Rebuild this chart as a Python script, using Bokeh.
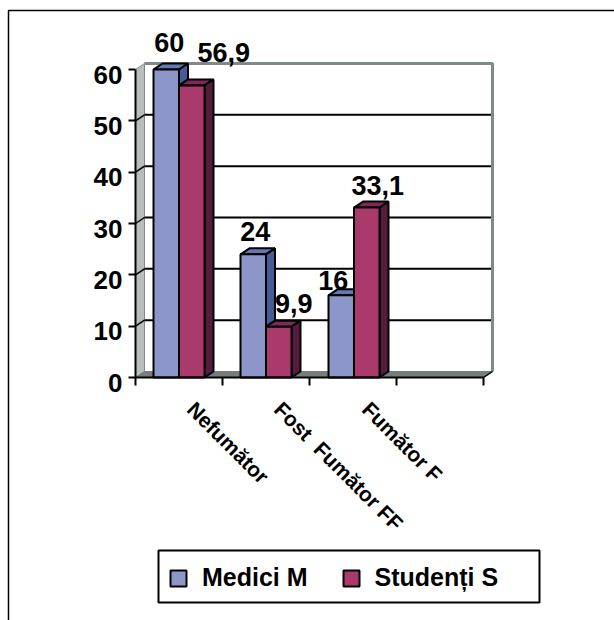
from bokeh.core.properties import value
from bokeh.embed import file_html
from bokeh.models import BoxAnnotation, ColumnDataSource, FixedTicker, Legend, LegendItem, LinearAxis
from bokeh.plotting import figure
from bokeh.resources import INLINE

# Smoking status by group
categories = ["Nefumător", "Fost \u00a0Fumător FF", "Fumător F"]
medici = [60, 24, 16]
studenti = [56.9, 9.9, 33.1]
y_ticks = [0, 10, 20, 30, 40, 50, 60]
series_names = ["Medici M", "Studenți S"]

WIDTH, HEIGHT = 614, 620
ORIGIN_X, ORIGIN_Y = 135, 377      # pixel position of the data origin
SLOT_PX, UNIT_PX = 87.0, 308 / 60  # pixels per category slot / per percent
DEPTH_X, DEPTH_Y = 9 / SLOT_PX, 6 / UNIT_PX  # pseudo-3D depth in data units
BAR_W = 25.5 / SLOT_PX
N_SLOTS = 4
FONT = "Liberation Sans"

BLUE = ("#8c96c8", "#6478b4", "#465c94")   # front, top, side
RED = ("#ab3a6c", "#7e2a58", "#551c3e")
WALL, FLOOR, EDGE = "#b9bdbd", "#767e7c", "#808a8a"

p = figure(
    width=WIDTH, height=HEIGHT, output_backend="svg", toolbar_location=None,
    x_axis_type=None, y_axis_type=None, min_border=0,
    x_range=(-ORIGIN_X / SLOT_PX, (WIDTH - ORIGIN_X) / SLOT_PX),
    y_range=((ORIGIN_Y - HEIGHT) / UNIT_PX, ORIGIN_Y / UNIT_PX),
)
p.outline_line_color = None
p.grid.visible = False


def screen_box(left, right, top, bottom, **style):
    """Box given in page pixels measured from the top-left corner."""
    return BoxAnnotation(left=left, right=right, top=HEIGHT - top, bottom=HEIGHT - bottom,
                         left_units="screen", right_units="screen",
                         top_units="screen", bottom_units="screen",
                         line_color="black", line_alpha=1, level="underlay", **style)


# Outer chart border
p.add_layout(screen_box(8, WIDTH + 20, 10, HEIGHT + 20, fill_color=None, line_width=1.5))

# Back wall, side wall and floor
ymax = y_ticks[-1]
p.patch([0, DEPTH_X, DEPTH_X, 0], [0, DEPTH_Y, ymax + DEPTH_Y, ymax],
        fill_color=WALL, line_color=EDGE, line_width=1)
p.patch([0, N_SLOTS, N_SLOTS + DEPTH_X, DEPTH_X], [0, 0, DEPTH_Y, DEPTH_Y],
        fill_color=FLOOR, line_color=FLOOR, line_width=1)

# Gridlines on the back wall, joined to the axis by short diagonals
grid_y = [t + DEPTH_Y for t in y_ticks[1:-1]]
p.segment([DEPTH_X] * len(grid_y), grid_y, [N_SLOTS + DEPTH_X] * len(grid_y), grid_y,
          line_color="black", line_width=2)
p.segment([0] * len(grid_y), y_ticks[1:-1], [DEPTH_X] * len(grid_y), grid_y,
          line_color="black", line_width=1.5)
p.line([DEPTH_X, N_SLOTS + DEPTH_X, N_SLOTS + DEPTH_X],
       [ymax + DEPTH_Y, ymax + DEPTH_Y, DEPTH_Y], line_color=EDGE, line_width=3)
p.segment([N_SLOTS], [0], [N_SLOTS + DEPTH_X], [DEPTH_Y], line_color="black", line_width=1.5)


def draw_bars(values, left_edges, colours):
    front, top, side = colours
    right_edges = [x + BAR_W for x in left_edges]
    p.patches(
        [[l, r, r + DEPTH_X, l + DEPTH_X] for l, r in zip(left_edges, right_edges)],
        [[v, v, v + DEPTH_Y, v + DEPTH_Y] for v in values],
        fill_color=top, line_color="black", line_width=2)
    p.patches(
        [[r, r + DEPTH_X, r + DEPTH_X, r] for r in right_edges],
        [[0, DEPTH_Y, v + DEPTH_Y, v] for v in values],
        fill_color=side, line_color="black", line_width=2)
    return p.quad(left=left_edges, right=right_edges, bottom=0, top=values,
                  fill_color=front, line_color="black", line_width=2)


centres = [i + 0.5 for i in range(len(categories))]
centres[2] += 1 / SLOT_PX
r_medici = draw_bars(medici, [c - BAR_W for c in centres], BLUE)
r_studenti = draw_bars(studenti, centres, RED)

# Value labels above the bars
label_src = ColumnDataSource(dict(
    x=[centres[0] - BAR_W / 2, centres[0] + BAR_W / 2, centres[1] - BAR_W / 2,
       centres[1] + BAR_W / 2, centres[2] - BAR_W / 2, centres[2] + BAR_W / 2],
    y=medici[:1] + studenti[:1] + medici[1:2] + studenti[1:2] + medici[2:] + studenti[2:],
    dx=[3, 32, 2, 15, -8, 11],
    dy=[-27, -33, -23, -23, -15, -22],
))
label_src.data["text"] = [f"{v:g}".replace(".", ",") for v in label_src.data["y"]]
p.text("x", "y", text="text", source=label_src, x_offset="dx", y_offset="dy",
       text_font=value(FONT), text_font_style="bold", text_font_size="27px",
       text_align="center", text_baseline="middle", text_color="black")

# Slanted category labels
p.text(centres, [0] * len(centres), text=categories, x_offset=12, y_offset=28,
       angle=-45, angle_units="deg",
       text_font=value(FONT), text_font_style="bold", text_font_size="21px",
       text_align="left", text_baseline="middle", text_color="black")

# Axes: the frame fills the page, so both are pinned to the data origin
yaxis = LinearAxis(fixed_location=0, ticker=FixedTicker(ticks=y_ticks), bounds=(0, ymax),
                   axis_line_color="black", axis_line_width=2,
                   major_tick_line_color="black", major_tick_line_width=2,
                   major_tick_in=0, major_tick_out=7, minor_tick_line_color=None,
                   major_label_overrides={t: "" for t in y_ticks})
p.add_layout(yaxis, "left")
xaxis = LinearAxis(fixed_location=0, ticker=FixedTicker(ticks=list(range(N_SLOTS + 1))),
                   bounds=(0, N_SLOTS),
                   axis_line_color="black", axis_line_width=2,
                   major_tick_line_color="black", major_tick_line_width=2,
                   major_tick_in=0, major_tick_out=8, minor_tick_line_color=None,
                   major_label_overrides={t: "" for t in range(N_SLOTS + 1)})
p.add_layout(xaxis, "below")

# Tick labels sit slightly below their ticks
p.text([0] * len(y_ticks), y_ticks, text=[str(t) for t in y_ticks], x_offset=-13, y_offset=5,
       text_font=value(FONT), text_font_style="bold", text_font_size="26px",
       text_align="right", text_baseline="middle", text_color="black")

# Legend frame and entries
p.add_layout(screen_box(158, 539, 550, 602, fill_color="white", fill_alpha=1, line_width=2))
legend = Legend(
    items=[LegendItem(label=series_names[0], renderers=[r_medici]),
           LegendItem(label=series_names[1], renderers=[r_studenti])],
    orientation="horizontal", location=(168, 28), padding=13, margin=0, spacing=33,
    glyph_width=20, glyph_height=20, label_standoff=14, label_height=26,
    label_text_font=FONT, label_text_font_style="bold", label_text_font_size="25px",
    label_text_color="black", border_line_color=None, background_fill_color=None,
    background_fill_alpha=0,
)
p.add_layout(legend, "center")

open("out.html", "w").write(file_html(p, INLINE))
